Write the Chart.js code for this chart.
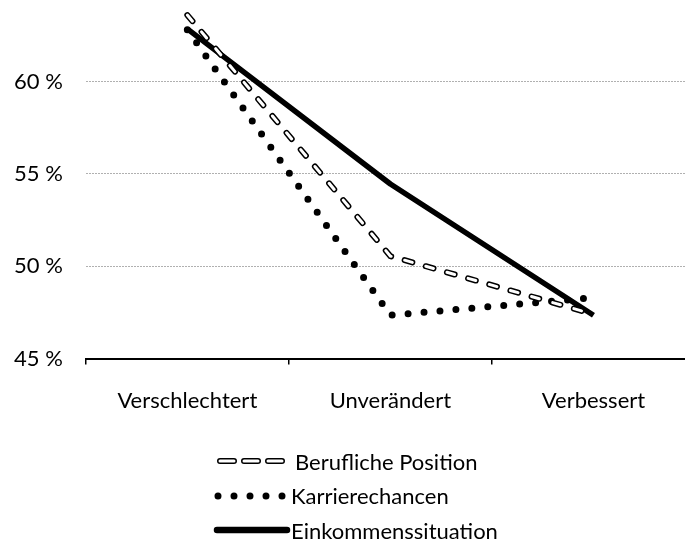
<!DOCTYPE html>
<html lang="de">
<head>
<meta charset="UTF-8">
<title>Veränderung nach Bereich</title>
<style>
  html, body { margin: 0; padding: 0; background: #fff; overflow: hidden; width: 685px; height: 549px; }
  body { position: relative; font-family: Lato, "Liberation Sans", sans-serif; }
  #chart { position: absolute; left: -25px; top: -47px; }
  .legend { position: absolute; left: 213px; top: 444px; }
  .legend-row { display: flex; align-items: center; height: 34.5px; font-size: 22px; color: #000; }
  .legend-row svg { width: 80px; height: 14px; flex: none; }
</style>
<script src="https://cdn.jsdelivr.net/npm/chart.js"></script>
</head>
<body>
<canvas id="chart" width="745" height="493"></canvas>
<div class="legend" id="legend"></div>
<script>
const categories = ['Verschlechtert', 'Unverändert', 'Verbessert'];
const seriesNames = ['Berufliche Position', 'Karrierechancen', 'Einkommenssituation'];
const beruflichePosition = [63.6, 50.55, 47.4];
const karrierechancen = [62.8, 47.35, 48.3];
const einkommenssituation = [62.85, 54.45, 47.35];
const yTicks = [45, 50, 55, 60, 65];

const fontFamily = 'Lato, "Liberation Sans", sans-serif';

const datasets = [
    // white core of the hollow dashes, same values as the outline below
    {
        label: seriesNames[0] + ' (core)',
        data: beruflichePosition,
        borderColor: '#fff',
        borderWidth: 3,
        borderDash: [8, 14],
        borderCapStyle: 'round',
        order: 0
    },
    {
        label: seriesNames[0],
        data: beruflichePosition,
        borderColor: '#000',
        borderWidth: 6,
        borderDash: [8, 14],
        borderCapStyle: 'round',
        order: 1
    },
    {
        label: seriesNames[1],
        data: karrierechancen,
        borderColor: '#000',
        borderWidth: 7,
        borderDash: [0, 16],
        borderCapStyle: 'round',
        order: 2
    },
    {
        label: seriesNames[2],
        data: einkommenssituation,
        borderColor: '#000',
        borderWidth: 5.5,
        borderJoinStyle: 'round',
        order: 3
    }
];
datasets.forEach(d => {
    d.pointRadius = 0;
    d.tension = 0;
    d.fill = false;
});

new Chart(document.getElementById('chart'), {
    type: 'line',
    data: { labels: categories, datasets: datasets },
    options: {
        responsive: false,
        animation: false,
        layout: { padding: { left: 16, right: 25, top: 19, bottom: 9 } },
        plugins: { legend: { display: false }, tooltip: { enabled: false } },
        scales: {
            x: {
                offset: true,
                grid: {
                    display: true,
                    offset: true,
                    drawOnChartArea: false,
                    drawTicks: true,
                    tickLength: 6,
                    color: '#000',
                    lineWidth: 1.5
                },
                border: { display: true, color: '#000', width: 2 },
                ticks: { color: '#000', padding: 23, font: { family: fontFamily, size: 22 } }
            },
            y: {
                min: 45,
                max: 65,
                afterBuildTicks: axis => { axis.ticks = yTicks.map(v => ({ value: v })); },
                grid: { color: '#b0b0b0', lineWidth: 1, drawTicks: false },
                border: { display: false, dash: [2, 1] },
                ticks: {
                    color: '#000',
                    padding: 23,
                    font: { family: fontFamily, size: 22 },
                    callback: v => v + ' %'
                }
            }
        }
    }
});

// legend, one row per series, built from the same series names
const legendStyles = [
    '<line x1="7" y1="7" x2="69" y2="7" stroke="#000" stroke-width="6" stroke-linecap="round" stroke-dasharray="14 10"/>' +
    '<line x1="7" y1="7" x2="69" y2="7" stroke="#fff" stroke-width="3" stroke-linecap="round" stroke-dasharray="14 10"/>',
    '<line x1="5" y1="7" x2="70" y2="7" stroke="#000" stroke-width="7" stroke-linecap="round" stroke-dasharray="0 16"/>',
    '<line x1="4" y1="7" x2="74" y2="7" stroke="#000" stroke-width="6.5" stroke-linecap="round"/>'
];
const legendGaps = [2, -2, -2];
const legend = document.getElementById('legend');
seriesNames.forEach((name, i) => {
    const row = document.createElement('div');
    row.className = 'legend-row';
    row.innerHTML = '<svg viewBox="0 0 80 14">' + legendStyles[i] + '</svg><span style="margin-left:' + legendGaps[i] + 'px">' + name + '</span>';
    legend.appendChild(row);
});
</script>
</body>
</html>
